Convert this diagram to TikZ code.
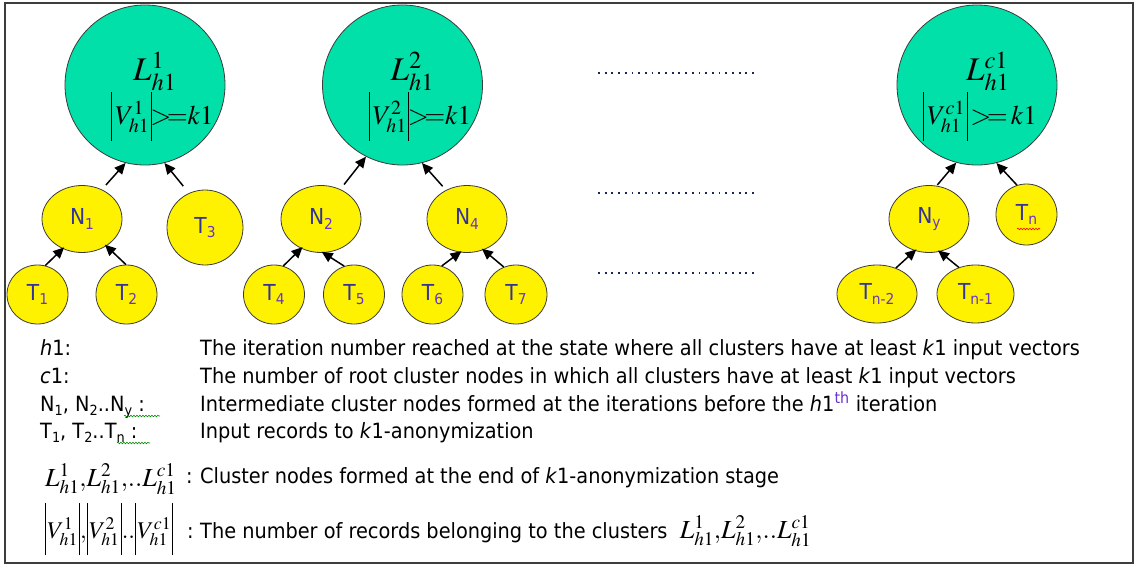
\documentclass[tikz,border=0pt]{standalone}
\usepackage{mathptmx}
\usepackage{fontspec}
\usetikzlibrary{shapes.geometric,arrows.meta,decorations.pathmorphing}
\newfontfamily\tah[FakeStretch=0.92]{DejaVu Sans}
\definecolor{clgreen}{RGB}{0,224,168}
\definecolor{nblue}{RGB}{51,51,153}
\definecolor{nsub}{RGB}{102,51,204}
\definecolor{dotblue}{RGB}{25,40,90}
\definecolor{framegray}{RGB}{60,60,60}
\newcommand\nsb[1]{\raisebox{-0.2em}{\fontsize{15}{15}\selectfont\color{nsub}#1}}
\newcommand\lsb[1]{\raisebox{-0.2em}{\fontsize{14}{14}\selectfont #1}}
% tall bar: #1 total height, #2 depth (smashed so it does not enlarge the text box)
\newcommand\tbar[2]{\mathord{\smash{\rule[-#2]{0.9pt}{#1}}}}
\newcommand\cabs[1]{\tbar{49pt}{17pt}\mkern2mu#1\mkern1mu\tbar{49pt}{17pt}}
\newcommand\labs[1]{\tbar{52pt}{17pt}\mkern1mu#1\mkern1mu\tbar{52pt}{17pt}}
\tikzset{
  root/.style={circle,draw=framegray,line width=0.8pt,fill=clgreen,minimum size=160pt,inner sep=0pt},
  ynode/.style={ellipse,draw=framegray,line width=0.8pt,fill=yellow,inner sep=0pt,
     text=nblue,font=\tah\fontsize{22}{26}\selectfont},
  arr/.style={line width=1.5pt,-{Triangle[length=11pt,width=10pt]}},
  dotline/.style={dotblue,line width=1.8pt,dash pattern=on 1.8pt off 4.9pt},
  legtext/.style={anchor=base west,inner sep=0pt,font=\tah\fontsize{21}{25}\selectfont},
  mathtxt/.style={anchor=base west,inner sep=0pt},
  wavy/.style={decorate,decoration={snake,amplitude=0.8pt,segment length=3pt},line width=0.6pt}
}
\begin{document}
\begin{tikzpicture}[x=1pt,y=-1pt]
\useasboundingbox[fill=white] (0,0) rectangle (1136,565);
\draw[framegray,line width=1.2pt] (5,3) rectangle (1133,563);

% root clusters
\node[root] (L1) at (145,85) {};
\node[root] (L2) at (402.5,85) {};
\node[root] (Lc) at (977,85) {};
\node[mathtxt] (L1a) at (133,80) {\fontsize{33}{33}\selectfont$L^{1}_{h1}$};
\node[mathtxt] (L1b) at (111,124) {\fontsize{27}{27}\selectfont$\cabs{V^{1}_{h1}}\mkern-1mu{>}\mkern-3mu{=}k1$};
\node[mathtxt] (L2a) at (390.5,80) {\fontsize{33}{33}\selectfont$L^{2}_{h1}$};
\node[mathtxt] (L2b) at (368.5,124) {\fontsize{27}{27}\selectfont$\cabs{V^{2}_{h1}}\mkern-1mu{>}\mkern-3mu{=}k1$};
\node[mathtxt] (Lca) at (966,80) {\fontsize{33}{33}\selectfont$L^{c1}_{h1}$};
\node[mathtxt] (Lcb) at (923,124) {\fontsize{27}{27}\selectfont$\cabs{V^{c1}_{h1}}\,{>}\mkern-3mu{=}\,k1$};

% intermediate nodes
\node[ynode,minimum width=80pt,minimum height=67pt] (N1) at (82,219) {N\nsb{1}};
\node[ynode,minimum width=76pt,minimum height=75pt] (T3) at (205,227.5) {T\nsb{3}};
\node[ynode,minimum width=80pt,minimum height=67pt] (N2) at (321,219) {N\nsb{2}};
\node[ynode,minimum width=80pt,minimum height=67pt] (N4) at (467,219) {N\nsb{4}};
\node[ynode,minimum width=80pt,minimum height=67pt] (Ny) at (929,219) {N\nsb{y}};
\node[ynode,minimum width=61pt,minimum height=61pt] (Tn) at (1026.5,214.5) {T\nsb{n}};

% leaves
\node[ynode,minimum width=61pt,minimum height=59pt] (T1) at (37.5,294.5) {T\nsb{1}};
\node[ynode,minimum width=61pt,minimum height=59pt] (T2) at (126.5,294.5) {T\nsb{2}};
\node[ynode,minimum width=61pt,minimum height=59pt] (T4) at (274,294.5) {T\nsb{4}};
\node[ynode,minimum width=61pt,minimum height=59pt] (T5) at (354,294.5) {T\nsb{5}};
\node[ynode,minimum width=61pt,minimum height=59pt] (T6) at (432.5,294.5) {T\nsb{6}};
\node[ynode,minimum width=62pt,minimum height=59pt] (T7) at (516,294.5) {T\nsb{7}};
\node[ynode,minimum width=80pt,minimum height=58pt] (Tn2) at (877,294) {T\nsb{n-2}};
\node[ynode,minimum width=77pt,minimum height=58pt] (Tn1) at (975.5,294) {T\nsb{n-1}};

% arrows to roots
\draw[arr,shorten <=6pt] (N1.56) -- (L1.-104);
\draw[arr,shorten <=9pt] (T3.115) -- (L1.-76);
\draw[arr,shorten <=6pt] (N2.57) -- (L2.-117);
\draw[arr,shorten <=5pt] (N4.126) -- (L2.-76);
\draw[arr,shorten <=1pt] (Ny.77) -- (Lc.-105);
\draw[arr] (Tn.108) -- (Lc.-76);

% arrows to intermediate nodes
\draw[arr,shorten >=-2pt] (T1.75) -- (N1.-123);
\draw[arr,shorten >=-2pt] (T2.91) -- (N1.-48);
\draw[arr,shorten >=-2pt] (T4.72) -- (N2.-124);
\draw[arr,shorten >=-2pt] (T5.109) -- (N2.-86);
\draw[arr,shorten >=-2pt] (T6.72) -- (N4.-102);
\draw[arr,shorten >=-2pt] (T7.114) -- (N4.-62);
\draw[arr,shorten >=-2pt] (Tn2.54) -- (Ny.-114);
\draw[arr,shorten >=-2pt] (Tn1.122) -- (Ny.-72);

% ellipsis rows
\draw[dotline] (598,73) -- (758,73);
\draw[dotline] (598,193) -- (758,193);
\draw[dotline] (598,273) -- (758,273);
\draw[wavy,red] (1017,229) -- (1040,229);

% legend
\node[legtext] (k1) at (40,355) {\textit{h}1:};
\node[legtext] (v1) at (200,355) {The iteration number reached at the state where all clusters have at least \textit{k}1 input vectors};
\node[legtext] (k2) at (40,383) {\textit{c}1:};
\node[legtext] (v2) at (200,383) {The number of root cluster nodes in which all clusters have at least \textit{k}1 input vectors};
\node[legtext] (k3) at (40,411) {N\lsb{1}, N\lsb{2}..N\lsb{y} :};
\node[legtext] (v3) at (200,411) {Intermediate cluster nodes formed at the iterations before the \textit{h}1\textsuperscript{\color{nsub}th} iteration};
\node[legtext] (k4) at (40,438) {T\lsb{1}, T\lsb{2}..T\lsb{n} :};
\node[legtext] (v4) at (200,438) {Input records to \textit{k}1-anonymization};
\draw[wavy,green!55!black] (124,416) -- (160,416);
\draw[wavy,green!55!black] (117,443) -- (150,443);

\node[mathtxt] (k5) at (45,486) {\fontsize{26}{26}\selectfont$L^{1}_{h1}{,}L^{2}_{h1}{,}{..}L^{c1}_{h1}$};
\node[legtext] (c5) at (186,483) {:};
\node[legtext] (v5) at (200,483) {Cluster nodes formed at the end of \textit{k}1-anonymization stage};

\node[mathtxt] (k6) at (45,538) {\fontsize{24}{24}\selectfont$\labs{V^{1}_{h1}}{,}\labs{V^{2}_{h1}}{..}\labs{V^{c1}_{h1}}$};
\node[legtext] (c6) at (187,538) {:};
\node[legtext] (v6) at (200,538) {The number of records belonging to the clusters \ {\fontsize{26}{26}\selectfont$L^{1}_{h1}{,}L^{2}_{h1}{,}{..}L^{c1}_{h1}$}};
\end{tikzpicture}
\end{document}
